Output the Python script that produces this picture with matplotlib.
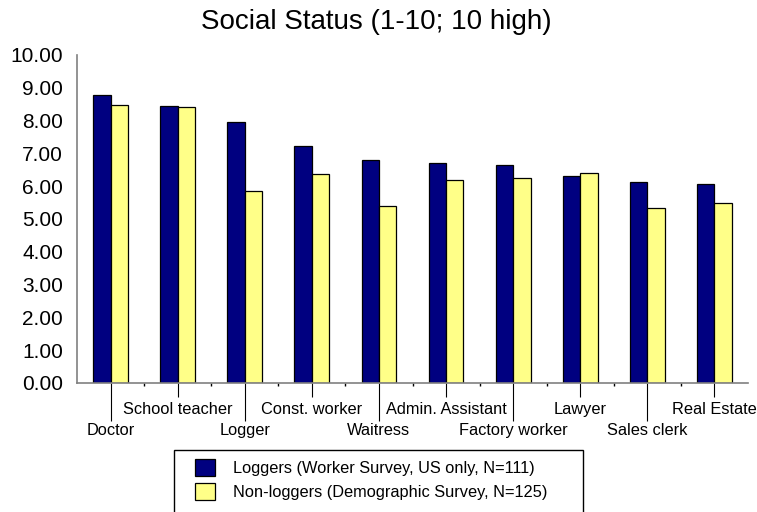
import numpy as np
import matplotlib
matplotlib.use("Agg")
import matplotlib.pyplot as plt
from matplotlib.patches import Rectangle

plt.rcParams['font.family'] = ['Liberation Sans', 'DejaVu Sans']

# data
categories = ['Doctor', 'School teacher', 'Logger', 'Const. worker', 'Waitress',
              'Admin. Assistant', 'Factory worker', 'Lawyer', 'Sales clerk', 'Real Estate']
loggers = [8.78, 8.44, 7.97, 7.24, 6.79, 6.72, 6.65, 6.30, 6.12, 6.06]
non_loggers = [8.47, 8.41, 5.85, 6.36, 5.39, 6.20, 6.24, 6.39, 5.35, 5.49]
series_names = ['Loggers (Worker Survey, US only, N=111)',
                'Non-loggers (Demographic Survey, N=125)']
yticks = np.arange(0, 11, 1)

fig = plt.figure(figsize=(7.57, 5.12), dpi=100)
ax = fig.add_axes([77/757, 1-383/512, 671/757, 328/512])

x = np.arange(len(categories))
w = 0.26
b1 = ax.bar(x - w/2, loggers, w, color='#000080', edgecolor='black', linewidth=0.9,
            label=series_names[0])
b2 = ax.bar(x + w/2, non_loggers, w, color='#FFFF88', edgecolor='black', linewidth=0.9,
            label=series_names[1])

ax.set_xlim(-0.5, len(categories) - 0.5)
ax.set_ylim(0, 10)
ax.set_yticks(yticks)
ax.set_yticklabels(['%.2f' % v for v in yticks], fontsize=15)
ax.tick_params(axis='y', length=0, pad=10)

for s in ['top', 'right']:
    ax.spines[s].set_visible(False)
for s in ['left', 'bottom']:
    ax.spines[s].set_color('#808080')
    ax.spines[s].set_linewidth(1.2)

# staggered category labels with leader ticks
ax.set_xticks(x)
ax.set_xticklabels([''] * len(categories))
ax.set_xticks(x[:-1] + 0.5, minor=True)
ax.tick_params(axis='x', which='minor', length=2, color='black', width=1)
for i, tick in enumerate(ax.xaxis.get_major_ticks()):
    tick.tick1line.set_markersize(27 if i % 2 == 0 else 10)
    tick.tick1line.set_color('black' if i % 2 == 0 else '#404040')
for i, name in enumerate(categories):
    off = -34 if i % 2 == 0 else -19
    ax.annotate(name, xy=(i, 0), xycoords=('data', 'axes fraction'),
                xytext=(0, off), textcoords='offset points',
                ha='center', va='center', fontsize=11.8)

fig.text(376/757, 1-22/512, 'Social Status (1-10; 10 high)', ha='center', va='center',
         fontsize=20)

# legend box drawn separately, entries without frame
fig.patches.append(Rectangle((174/757, -0.01), (583-174)/757, (512-450)/512 + 0.01,
                             transform=fig.transFigure, facecolor='white',
                             edgecolor='black', linewidth=1, zorder=1))
leg = fig.legend(handles=[b1, b2], loc='upper left', bbox_to_anchor=(195/757, 1-459/512),
                 fontsize=11.75, frameon=False,
                 handlelength=1.25, handleheight=1.25, handletextpad=1.1,
                 borderpad=0, labelspacing=0.42, borderaxespad=0)

fig.savefig('out.png', dpi=100)
